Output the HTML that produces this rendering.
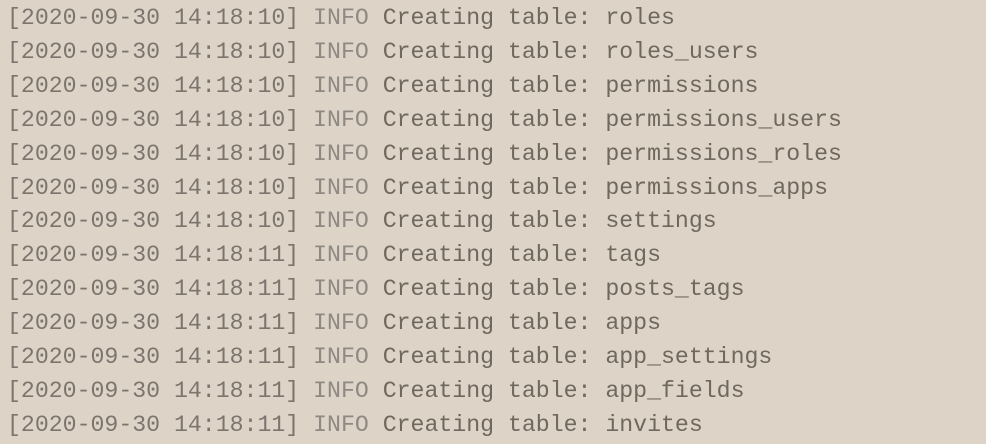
<!DOCTYPE html>
<html><head><meta charset="utf-8"><style>
html,body{margin:0;padding:0;}
body{width:986px;height:444px;background:#ddd4c7;overflow:hidden;}
pre{margin:0;padding:2px 0 0 7px;font-family:"Liberation Mono",monospace;font-size:23.2px;line-height:33.9px;color:#7d746e;}
.i{color:#8f8984}
.c{color:#70675f}
</style></head><body><pre>[2020-09-30 14:18:10] <span class="i">INFO</span> <span class="c">Creating table: roles</span>
[2020-09-30 14:18:10] <span class="i">INFO</span> <span class="c">Creating table: roles_users</span>
[2020-09-30 14:18:10] <span class="i">INFO</span> <span class="c">Creating table: permissions</span>
[2020-09-30 14:18:10] <span class="i">INFO</span> <span class="c">Creating table: permissions_users</span>
[2020-09-30 14:18:10] <span class="i">INFO</span> <span class="c">Creating table: permissions_roles</span>
[2020-09-30 14:18:10] <span class="i">INFO</span> <span class="c">Creating table: permissions_apps</span>
[2020-09-30 14:18:10] <span class="i">INFO</span> <span class="c">Creating table: settings</span>
[2020-09-30 14:18:11] <span class="i">INFO</span> <span class="c">Creating table: tags</span>
[2020-09-30 14:18:11] <span class="i">INFO</span> <span class="c">Creating table: posts_tags</span>
[2020-09-30 14:18:11] <span class="i">INFO</span> <span class="c">Creating table: apps</span>
[2020-09-30 14:18:11] <span class="i">INFO</span> <span class="c">Creating table: app_settings</span>
[2020-09-30 14:18:11] <span class="i">INFO</span> <span class="c">Creating table: app_fields</span>
[2020-09-30 14:18:11] <span class="i">INFO</span> <span class="c">Creating table: invites</span></pre></body></html>
